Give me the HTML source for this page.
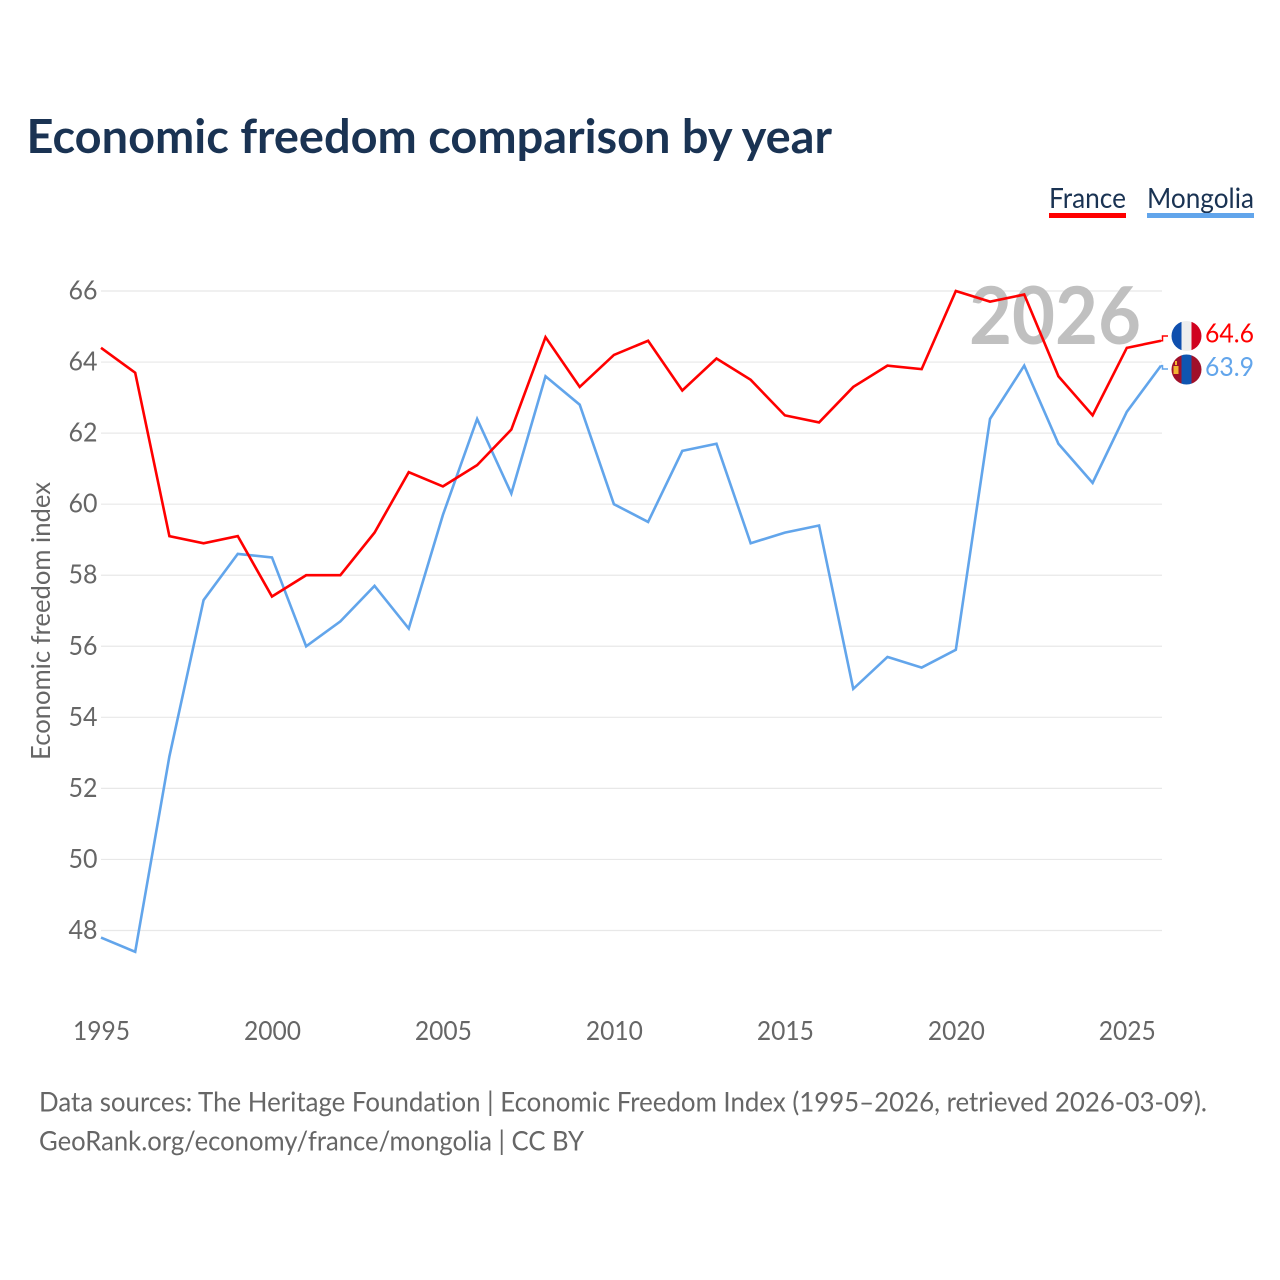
<!DOCTYPE html>
<html lang="en">
<head>
<meta charset="utf-8">
<title>Economic freedom comparison by year</title>
<style>
html,body{margin:0;padding:0;background:#fff;}
svg{display:block;}
text{font-family:"Lato","Carlito","Liberation Sans",sans-serif;font-variant-ligatures:none;}
</style>
</head>
<body>
<svg id="chart" width="1280" height="1280" viewBox="0 0 1280 1280" xmlns="http://www.w3.org/2000/svg">
  <rect width="1280" height="1280" fill="#ffffff"/>
  <text x="26.500" y="153" font-size="47" font-weight="700" fill="#1a3353" textLength="805.500" lengthAdjust="spacingAndGlyphs">Economic freedom comparison by year</text>

  <g>
    <text x="1049" y="208" font-size="28" fill="#1a3353" textLength="77" lengthAdjust="spacingAndGlyphs">France</text>
    <rect x="1049" y="213" width="77" height="5" fill="#ff0000"/>
  </g>
  <g>
    <text x="1147" y="208" font-size="28" fill="#1a3353" textLength="107" lengthAdjust="spacingAndGlyphs">Mongolia</text>
    <rect x="1147" y="213" width="107" height="5" fill="#62a5eb"/>
  </g>

  <g id="grid"></g>
  <text x="1141" y="344" text-anchor="end" font-size="80" font-weight="700" fill="#c0c0c0" textLength="172" lengthAdjust="spacingAndGlyphs">2026</text>
  <g id="yticks"></g>
  <g id="xticks"></g>
  <text transform="translate(50,621) rotate(-90)" text-anchor="middle" font-size="26" fill="#666666" textLength="278" lengthAdjust="spacingAndGlyphs">Economic freedom index</text>
  <g id="series"></g>

  <defs>
    <clipPath id="clip-fr"><circle cx="1186.500" cy="336" r="15"/></clipPath>
    <clipPath id="clip-mn"><circle cx="1186.500" cy="369.500" r="15"/></clipPath>
  </defs>
  <path id="leader-fr" d="" fill="none" stroke="#ff0000" stroke-width="1.500"/>
  <path id="leader-mn" d="" fill="none" stroke="#62a5eb" stroke-width="1.500"/>
  <g clip-path="url(#clip-fr)">
    <rect x="1171" y="321" width="10.500" height="30" fill="#0f4fae"/>
    <rect x="1181.500" y="321" width="10" height="30" fill="#eeeeee"/>
    <rect x="1191.500" y="321" width="10.500" height="30" fill="#d0021f"/>
  </g>
  <g clip-path="url(#clip-mn)">
    <rect x="1171" y="354" width="10.500" height="31" fill="#a0102a"/>
    <rect x="1181.500" y="354" width="10" height="31" fill="#0f55b0"/>
    <rect x="1191.500" y="354" width="10.500" height="31" fill="#a0102a"/>
    <rect x="1173.500" y="366" width="5" height="8" fill="#f2b632"/>
    <rect x="1175" y="361" width="2" height="4" fill="#f2b632"/>
  </g>
  <text id="val-fr" x="1205" y="342.500" font-size="26" fill="#ff0000" textLength="49" lengthAdjust="spacingAndGlyphs"></text>
  <text id="val-mn" x="1205" y="376" font-size="26" fill="#62a5eb" textLength="49" lengthAdjust="spacingAndGlyphs"></text>

  <g>
    <text x="39" y="1111.500" font-size="27" fill="#666666" textLength="1168" lengthAdjust="spacingAndGlyphs">Data sources: The Heritage Foundation | Economic Freedom Index (1995–2026, retrieved 2026-03-09).</text>
    <text x="39" y="1150.500" font-size="27" fill="#666666" textLength="545" lengthAdjust="spacingAndGlyphs">GeoRank.org/economy/france/mongolia | CC BY</text>
  </g>
</svg>
<script>
var years = [1995,1996,1997,1998,1999,2000,2001,2002,2003,2004,2005,2006,2007,2008,2009,2010,2011,2012,2013,2014,2015,2016,2017,2018,2019,2020,2021,2022,2023,2024,2025,2026];
var france = [64.4,63.7,59.1,58.9,59.1,57.4,58.0,58.0,59.2,60.9,60.5,61.1,62.1,64.7,63.3,64.2,64.6,63.2,64.1,63.5,62.5,62.3,63.3,63.9,63.8,66.0,65.7,65.9,63.6,62.5,64.4,64.6];
var mongolia = [47.8,47.4,52.9,57.3,58.6,58.5,56.0,56.7,57.7,56.5,59.7,62.4,60.3,63.6,62.8,60.0,59.5,61.5,61.7,58.9,59.2,59.4,54.8,55.7,55.4,55.9,62.4,63.9,61.7,60.6,62.6,63.9];
var yTickValues = [48,50,52,54,56,58,60,62,64,66];
var xTickValues = [1995,2000,2005,2010,2015,2020,2025];

var NS = 'http://www.w3.org/2000/svg';
function xScale(year){ return 101 + (year - 1995) * (1161 - 101) / (2026 - 1995); }
function yScale(v){ return 930.5 - (v - 48) * (930.5 - 291) / (66 - 48); }
function make(tag, attrs, parent){
  var el = document.createElementNS(NS, tag);
  for (var k in attrs) { el.setAttribute(k, attrs[k]); }
  parent.appendChild(el);
  return el;
}

var gridGroup = document.getElementById('grid');
var yGroup = document.getElementById('yticks');
yTickValues.forEach(function(v){
  var line = make('line', {x1:101, x2:1162, y1:yScale(v), y2:yScale(v), stroke:'#e8e8e8', 'stroke-width':1.2}, gridGroup);
  
  
  var t = make('text', {x:97.5, y:yScale(v) + 8.5, 'text-anchor':'end', 'font-size':26, fill:'#666666', textLength:29, lengthAdjust:'spacingAndGlyphs'}, yGroup);
  
  
  t.textContent = v;
});

var xGroup = document.getElementById('xticks');
xTickValues.forEach(function(yr){
  var t = make('text', {x:xScale(yr) + 0.5, y:1040, 'text-anchor':'middle', 'font-size':26, fill:'#666666', textLength:57, lengthAdjust:'spacingAndGlyphs'}, xGroup);
  
  
  t.textContent = yr;
});

function linePath(values){
  return values.map(function(v, i){
    return (i ? 'L' : 'M') + xScale(years[i]).toFixed(2) + ' ' + yScale(v).toFixed(2);
  }).join(' ');
}
var seriesGroup = document.getElementById('series');
var mongoliaLine = make('path', {d:linePath(mongolia), fill:'none', stroke:'#62a5eb', 'stroke-width':2.6, 'stroke-linejoin':'miter'}, seriesGroup);


var franceLine = make('path', {d:linePath(france), fill:'none', stroke:'#ff0000', 'stroke-width':2.6, 'stroke-linejoin':'miter'}, seriesGroup);



var lastX = xScale(years[years.length - 1]);
var frY = yScale(france[france.length - 1]);
var mnY = yScale(mongolia[mongolia.length - 1]);
document.getElementById('leader-fr').setAttribute('d', 'M' + lastX + ' ' + frY + ' H1162.5 V336 H1168');
document.getElementById('leader-mn').setAttribute('d', 'M' + lastX + ' ' + mnY + ' H1162.5 V369 H1168');
document.getElementById('val-fr').textContent = france[france.length - 1].toFixed(1);
document.getElementById('val-mn').textContent = mongolia[mongolia.length - 1].toFixed(1);
</script>
</body>
</html>
